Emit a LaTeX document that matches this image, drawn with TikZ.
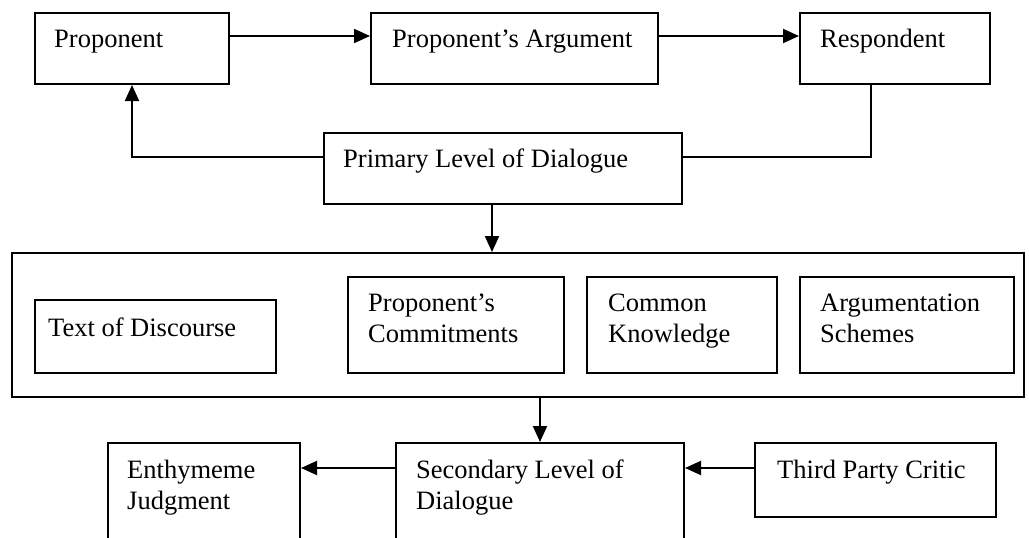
\documentclass[tikz,border=0pt]{standalone}
\usepackage{fontspec}
\setmainfont{Liberation Serif}
\usetikzlibrary{arrows.meta}
\newcommand{\twolines}[2]{\vtop{\baselineskip=31pt\hbox{#1}\hbox{#2}}}
\begin{document}
\begin{tikzpicture}[x=1pt,y=-1pt,
  box/.style={draw, line width=2pt, rectangle, inner sep=0pt, anchor=north west},
  txt/.style={anchor=base west, inner sep=0pt, font=\fontsize{26.5}{31}\selectfont},
  conn/.style={line width=2pt},
  arr/.style={line width=2pt, -{Triangle[length=16pt,width=14pt]}}]
\useasboundingbox (0,0) rectangle (1029,538);
\clip (0,0) rectangle (1029,538);
% top row
\node[box, minimum width=194pt, minimum height=71pt] (prop) at (34,12) {};
\node[txt] (propt) at (54,47) {Proponent};
\node[box, minimum width=287pt, minimum height=71pt] (pa) at (370,12) {};
\node[txt] (pat) at (392,47) {Proponent’s Argument};
\node[box, minimum width=190pt, minimum height=71pt] (resp) at (799,12) {};
\node[txt] (respt) at (820,47) {Respondent};
% primary level
\node[box, minimum width=358pt, minimum height=71pt] (pld) at (323,132) {};
\node[txt] (pldt) at (343,167) {Primary Level of Dialogue};
% big container
\node[box, minimum width=1012pt, minimum height=144pt] (big) at (11,252) {};
\node[box, minimum width=241pt, minimum height=73pt] (tod) at (34,299) {};
\node[txt] (todt) at (48,336) {Text of Discourse};
\node[box, minimum width=216pt, minimum height=96pt] (pc) at (347,276) {};
\node[txt] (pct) at (368,311) {\twolines{Proponent’s}{Commitments}};
\node[box, minimum width=190pt, minimum height=96pt] (ck) at (586,276) {};
\node[txt] (ckt) at (608,311) {\twolines{Common}{Knowledge}};
\node[box, minimum width=214pt, minimum height=96pt] (as) at (799,276) {};
\node[txt] (ast) at (820,311) {\twolines{Argumentation}{Schemes}};
% bottom row
\node[box, minimum width=288pt, minimum height=130pt] (sec) at (395,442) {};
\node[txt] (sect) at (416,478) {\twolines{Secondary Level of}{Dialogue}};
\node[box, minimum width=192pt, minimum height=130pt] (enth) at (107,442) {};
\node[txt] (entht) at (127,478) {\twolines{Enthymeme}{Judgment}};
\node[box, minimum width=241pt, minimum height=74pt] (tpc) at (754,442) {};
\node[txt] (tpct) at (777,478) {Third Party Critic};
% connectors
\draw[arr] ([yshift=12.5pt]prop.east) -- ([yshift=12.5pt]pa.west);
\draw[arr] ([yshift=12.5pt]pa.east) -- ([yshift=12.5pt]resp.west);
\draw[arr] ([yshift=11.5pt]pld.west) -| (prop.south);
\draw[conn] ([yshift=11.5pt]pld.east) -| ([xshift=-24pt]resp.south);
\draw[arr] ([xshift=-11pt]pld.south) -- ([xshift=-11pt]pld.south |- big.north);
\draw[arr] (big.south -| sec.north) -- (sec.north);
\draw[arr] ([yshift=-26pt]sec.north west) -- ([yshift=-26pt]sec.north west -| enth.east);
\draw[arr] ([yshift=-26pt]tpc.north west) -- ([yshift=-26pt]tpc.north west -| sec.east);
\end{tikzpicture}
\end{document}
